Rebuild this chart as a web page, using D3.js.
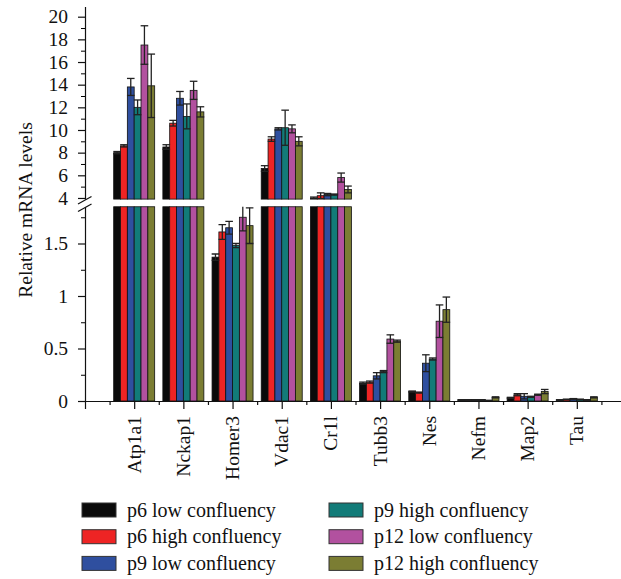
<!DOCTYPE html>
<html>
<head>
<meta charset="utf-8">
<script src="https://cdn.jsdelivr.net/npm/d3@7"></script>
<style>
  body { margin: 0; background: #fff; }
  svg { display: block; font-family: "Liberation Serif", "DejaVu Serif", serif; }
</style>
</head>
<body>
<svg id="svg1" width="621" height="579"></svg>
<script>
// genes on the x axis
var categories = ['Atp1a1', 'Nckap1', 'Homer3', 'Vdac1', 'Cr1l', 'Tubb3', 'Nes', 'Nefm', 'Map2', 'Tau'];

var seriesNames = ['p6 low confluency', 'p6 high confluency', 'p9 low confluency',
                   'p9 high confluency', 'p12 low confluency', 'p12 high confluency'];
var seriesColors = ['#0a0a0a', '#ee2424', '#2f4f9f', '#127b78', '#b2519f', '#7b7d33'];

// mean values, one array per series (same order as categories)
var p6Low   = [8.0, 8.5, 1.37, 6.6, 4.0, 0.17, 0.09, 0.01, 0.03, 0.01];
var p6High  = [8.6, 10.6, 1.61, 9.2, 4.2, 0.18, 0.08, 0.01, 0.06, 0.015];
var p9Low   = [13.8, 12.8, 1.65, 10.1, 4.3, 0.24, 0.36, 0.01, 0.045, 0.02];
var p9High  = [12.0, 11.2, 1.48, 10.2, 4.3, 0.28, 0.40, 0.01, 0.04, 0.015];
var p12Low  = [17.5, 13.5, 1.75, 10.1, 5.8, 0.59, 0.76, 0.005, 0.06, 0.01];
var p12High = [13.9, 11.6, 1.67, 9.0, 4.75, 0.57, 0.87, 0.035, 0.09, 0.035];

// error bars (+/-)
var p6LowErr   = [0.1, 0.2, 0.03, 0.25, 0.08, 0.01, 0.005, 0.003, 0.005, 0.003];
var p6HighErr  = [0.1, 0.25, 0.07, 0.2, 0.25, 0.01, 0.005, 0.003, 0.01, 0.003];
var p9LowErr   = [0.75, 0.6, 0.06, 0.1, 0.1, 0.03, 0.08, 0.003, 0.025, 0.003];
var p9HighErr  = [0.65, 1.1, 0.02, 1.55, 0.05, 0.01, 0.01, 0.003, 0.005, 0.003];
var p12LowErr  = [1.7, 0.8, 0.13, 0.35, 0.4, 0.04, 0.155, 0.002, 0.005, 0.003];
var p12HighErr = [2.8, 0.45, 0.17, 0.4, 0.3, 0.01, 0.12, 0.005, 0.02, 0.005];

// tick values for the broken y axis
var upperTicks = [4, 6, 8, 10, 12, 14, 16, 18, 20];
var upperMinor = [5, 7, 9, 11, 13, 15, 17, 19];
var lowerTicks = [0, 0.5, 1, 1.5];
var lowerTickLabels = ['0', '0.5', '1', '1.5'];
var lowerMinor = [0.25, 0.75, 1.25, 1.75];

var values = [p6Low, p6High, p9Low, p9High, p12Low, p12High];
var errors = [p6LowErr, p6HighErr, p9LowErr, p9HighErr, p12LowErr, p12HighErr];

var svg = d3.select('#svg1');

var lowMax = 1.85, upMin = 3.9;

// two y scales for the two pieces of the axis
var yUp = d3.scaleLinear().domain([upMin, 20.9]).range([199.1, 6.5]);
var yLow = d3.scaleLinear().domain([0, lowMax]).range([401, 206.75]);

// x: slot 0 is the axis origin, genes sit at 1..10
var x = d3.scaleLinear().domain([0, 11]).range([85, 626]);
var xInner = d3.scaleBand().domain(d3.range(seriesNames.length)).range([-20.5, 20.5]);

var defs = svg.append('defs');
defs.append('clipPath').attr('id', 'clipUp')
    .append('rect').attr('x', 0).attr('y', 0).attr('width', 621).attr('height', yUp(upMin));
defs.append('clipPath').attr('id', 'clipLow')
    .append('rect').attr('x', 0).attr('y', yLow(lowMax)).attr('width', 621).attr('height', 402 - yLow(lowMax));

var rows = [];
values.forEach(function(arr, j){
    arr.forEach(function(v, i){
        rows.push({i: i, j: j, v: v, e: errors[j][i]});
    });
});

function barX(d){ return x(d.i + 1) + xInner(d.j); }

// lower part of every bar
svg.append('g').selectAll('rect')
    .data(rows)
    .enter()
    .append('rect')
    .attr('x', barX)
    .attr('width', xInner.bandwidth())
    .attr('y', function(d){ return yLow(Math.min(d.v, lowMax)); })
    .attr('height', function(d){ return yLow(0) - yLow(Math.min(d.v, lowMax)); })
    .attr('fill', function(d){ return seriesColors[d.j]; })
    .attr('stroke', '#111')
    .attr('stroke-width', 0.8);

// upper part for the tall bars
svg.append('g').selectAll('rect')
    .data(rows.filter(function(d){ return d.v > upMin; }))
    .enter()
    .append('rect')
    .attr('x', barX)
    .attr('width', xInner.bandwidth())
    .attr('y', function(d){ return yUp(d.v); })
    .attr('height', function(d){ return yUp(upMin) - yUp(d.v); })
    .attr('fill', function(d){ return seriesColors[d.j]; })
    .attr('stroke', '#111')
    .attr('stroke-width', 0.8);

// error bars
var err = svg.append('g').selectAll('g')
    .data(rows)
    .enter()
    .append('g')
    .attr('clip-path', function(d){ return d.v > upMin ? 'url(#clipUp)' : 'url(#clipLow)'; })
    .attr('stroke', '#222')
    .attr('stroke-width', 1.3);

function ys(d){ return d.v > upMin ? yUp : yLow; }
function cx(d){ return barX(d) + xInner.bandwidth() / 2; }

err.append('line')
    .attr('x1', cx).attr('x2', cx)
    .attr('y1', function(d){ return ys(d)(d.v - d.e); })
    .attr('y2', function(d){ return ys(d)(d.v + d.e); });
err.append('line')
    .attr('x1', function(d){ return cx(d) - 3.8; }).attr('x2', function(d){ return cx(d) + 3.8; })
    .attr('y1', function(d){ return ys(d)(d.v + d.e); })
    .attr('y2', function(d){ return ys(d)(d.v + d.e); });
err.append('line')
    .attr('x1', function(d){ return cx(d) - 3.8; }).attr('x2', function(d){ return cx(d) + 3.8; })
    .attr('y1', function(d){ return ys(d)(Math.max(d.v - d.e, 0)); })
    .attr('y2', function(d){ return ys(d)(Math.max(d.v - d.e, 0)); });

// y axis, upper piece
svg.append('g')
    .attr('transform', 'translate(85,0)')
    .call(d3.axisLeft(yUp).tickValues(upperMinor).tickSize(4).tickSizeOuter(0).tickFormat(''))
    .call(function(g){ g.select('.domain').attr('stroke', '#111').attr('stroke-width', 1.2); });
svg.append('g')
    .attr('transform', 'translate(85,0)')
    .call(d3.axisLeft(yUp).tickValues(upperTicks).tickSize(7).tickPadding(10).tickSizeOuter(0))
    .call(function(g){ g.select('.domain').remove(); })
    .call(function(g){
        g.selectAll('line').attr('stroke', '#111').attr('stroke-width', 1.2);
        g.selectAll('text').attr('font-size', 19.5).attr('font-family', '"Liberation Serif", serif').attr('fill', '#111');
    });

// y axis, lower piece
svg.append('g')
    .attr('transform', 'translate(85,0)')
    .call(d3.axisLeft(yLow).tickValues(lowerMinor).tickSize(4).tickSizeOuter(0).tickFormat(''))
    .call(function(g){ g.select('.domain').attr('stroke', '#111').attr('stroke-width', 1.2); });
svg.append('g')
    .attr('transform', 'translate(85,0)')
    .call(d3.axisLeft(yLow).tickValues(lowerTicks).tickSize(7).tickPadding(10).tickSizeOuter(0)
        .tickFormat(function(d, i){ return lowerTickLabels[i]; }))
    .call(function(g){ g.select('.domain').remove(); })
    .call(function(g){
        g.selectAll('line').attr('stroke', '#111').attr('stroke-width', 1.2);
        g.selectAll('text').attr('font-size', 19.5).attr('font-family', '"Liberation Serif", serif').attr('fill', '#111');
    });

// break marks on the axis
svg.append('g')
    .attr('stroke', '#111')
    .attr('stroke-width', 1.2)
    .selectAll('line')
    .data([0, 7.5])
    .enter()
    .append('line')
    .attr('x1', 78).attr('x2', 91.5)
    .attr('y1', function(d){ return 204 + d; })
    .attr('y2', function(d){ return 196.5 + d; });

// x axis
svg.append('g')
    .attr('transform', 'translate(0,401)')
    .call(d3.axisBottom(x).tickValues(d3.range(0.5, 11, 1)).tickSize(4).tickSizeOuter(0).tickFormat(''))
    .call(function(g){ g.selectAll('line, path').attr('stroke', '#111').attr('stroke-width', 1.2); });
svg.append('g')
    .attr('transform', 'translate(0,401)')
    .call(d3.axisBottom(x).tickValues(d3.range(0, 12)).tickSize(8).tickSizeOuter(0).tickFormat(''))
    .call(function(g){ g.select('.domain').remove(); g.selectAll('line').attr('stroke', '#111').attr('stroke-width', 1.2); });

// rotated gene labels
svg.append('g').selectAll('text')
    .data(categories)
    .enter()
    .append('text')
    .attr('transform', function(d, i){ return 'translate(' + x(i + 1) + ',416) rotate(-90)'; })
    .attr('text-anchor', 'end')
    .attr('dy', '0.33em')
    .attr('font-size', 19.5)
    .attr('fill', '#111')
    .text(function(d){ return d; });

// y title
svg.append('text')
    .attr('transform', 'translate(32,210) rotate(-90)')
    .attr('text-anchor', 'middle')
    .attr('font-size', 19.5)
    .attr('fill', '#111')
    .text('Relative mRNA levels');

// legend, two columns of three
var legend = svg.append('g').selectAll('g')
    .data(seriesNames)
    .enter()
    .append('g')
    .attr('transform', function(d, i){
        var col = Math.floor(i / 3), row = i % 3;
        return 'translate(' + (82 + col * 247) + ',' + (503 + row * 26.7) + ')';
    });
legend.append('rect')
    .attr('width', 34)
    .attr('height', 14)
    .attr('fill', function(d, i){ return seriesColors[i]; })
    .attr('stroke', '#333')
    .attr('stroke-width', 1);
legend.append('text')
    .attr('x', 45)
    .attr('y', 13.5)
    .attr('font-size', 20)
    .attr('fill', '#111')
    .text(function(d){ return d; });
</script>
</body>
</html>
